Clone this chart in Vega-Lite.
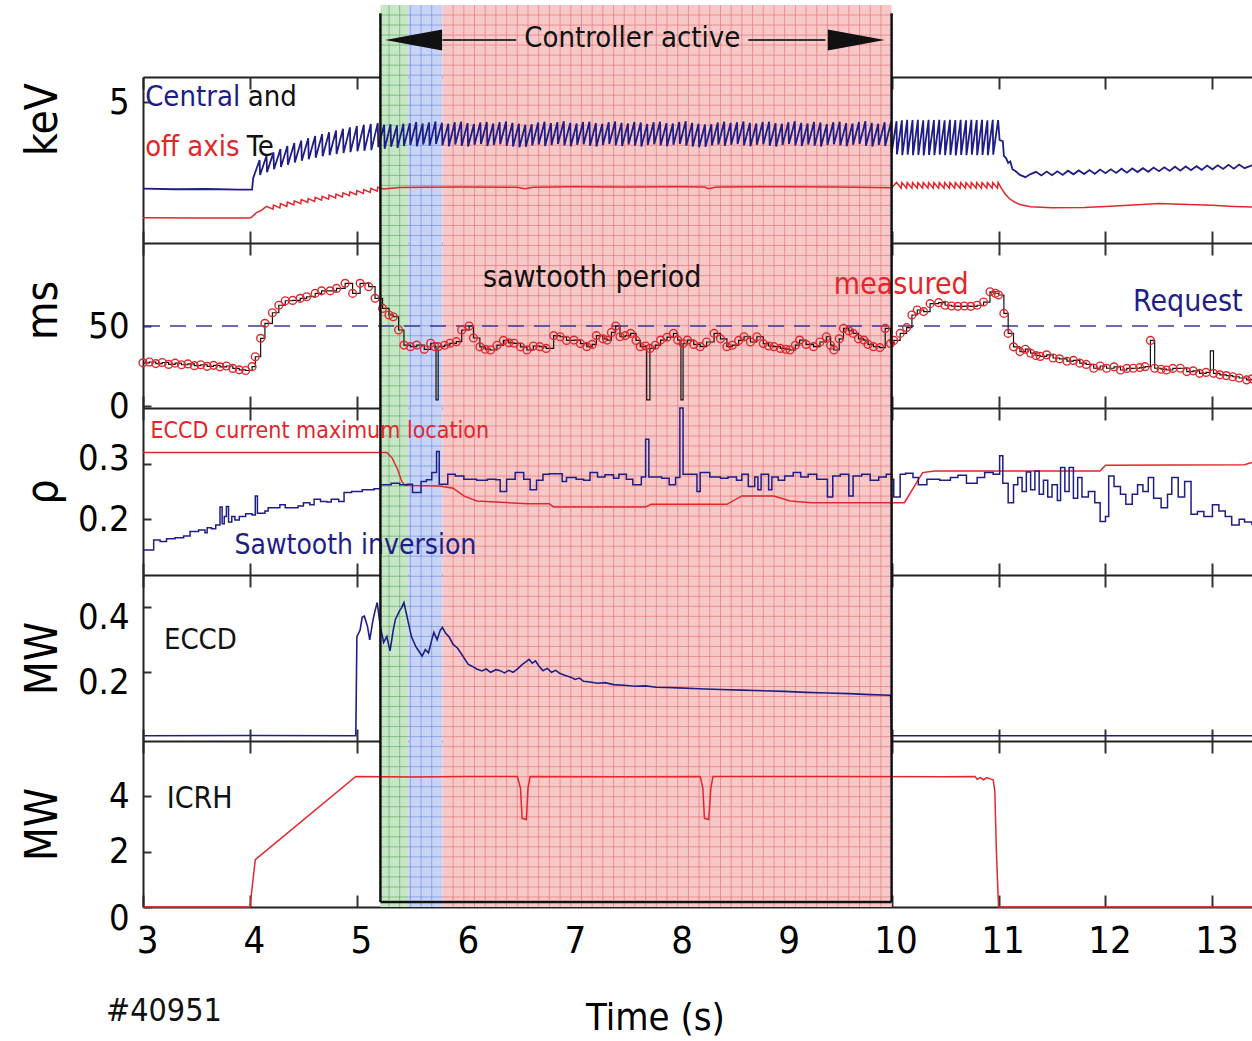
{
"$schema":"https://vega.github.io/schema/vega-lite/v6.json",
"autosize":{"type":"none"},
"padding":{"left":143,"top":5,"right":0,"bottom":134},
"width":1109,
"height":902,
"config":{
 "font":"DejaVu Sans Condensed, sans-serif",
 "view":{"stroke":null},
 "axis":{"labelFontSize":36,"labelColor":"#000","tickColor":"#333","tickWidth":2,"grid":false,"titleFontSize":44,"titleFontWeight":"normal","titleColor":"#000","labelFont":"DejaVu Sans Condensed, sans-serif","titleFont":"DejaVu Sans Condensed, sans-serif","domainColor":"#222","domainWidth":2,"zindex":1},
 "text":{"font":"DejaVu Sans Condensed, sans-serif"}
},
"datasets":{
 "reg":[{"t":5.22,"t2":5.48,"p":"g"},{"t":5.48,"t2":5.8,"p":"b"},{"t":5.8,"t2":10.0,"p":"r"}],
 "gv":[{"t":5.9},{"t":6.0},{"t":6.1},{"t":6.2},{"t":6.3},{"t":6.4},{"t":6.5},{"t":6.6},{"t":6.7},{"t":6.8},{"t":6.9},{"t":7.0},{"t":7.1},{"t":7.2},{"t":7.3},{"t":7.4},{"t":7.5},{"t":7.6},{"t":7.7},{"t":7.8},{"t":7.9},{"t":8.0},{"t":8.1},{"t":8.2},{"t":8.3},{"t":8.4},{"t":8.5},{"t":8.6},{"t":8.7},{"t":8.8},{"t":8.9},{"t":9.0},{"t":9.1},{"t":9.2},{"t":9.3},{"t":9.4},{"t":9.5},{"t":9.6},{"t":9.7},{"t":9.8},{"t":9.9}],
 "gh":[{"g":1},{"g":2},{"g":3},{"g":4},{"g":5},{"g":6},{"g":7},{"g":8},{"g":9},{"g":10},{"g":11},{"g":12},{"g":13},{"g":14},{"g":15},{"g":16},{"g":17},{"g":18},{"g":19},{"g":20},{"g":21},{"g":22},{"g":23},{"g":24},{"g":25},{"g":26},{"g":27},{"g":28},{"g":29},{"g":30},{"g":31},{"g":32},{"g":33},{"g":34},{"g":35},{"g":36},{"g":37},{"g":38},{"g":39},{"g":40},{"g":41},{"g":42},{"g":43},{"g":44},{"g":45},{"g":46},{"g":47},{"g":48},{"g":49},{"g":50},{"g":51},{"g":52},{"g":53},{"g":54},{"g":55},{"g":56},{"g":57},{"g":58},{"g":59},{"g":60},{"g":61},{"g":62},{"g":63},{"g":64},{"g":65},{"g":66},{"g":67},{"g":68},{"g":69},{"g":70},{"g":71},{"g":72},{"g":73},{"g":74},{"g":75},{"g":76},{"g":77},{"g":78},{"g":79},{"g":80},{"g":81},{"g":82},{"g":83},{"g":84},{"g":85},{"g":86},{"g":87},{"g":88},{"g":89}],
 "tec":[{"t":3.0,"v":1.93},{"t":3.3,"v":1.91},{"t":3.6,"v":1.92},{"t":3.9,"v":1.9},{"t":4.02,"v":1.9},
{"t":4.03,"v":2.3},{"t":4.09,"v":2.95},{"t":4.095,"v":2.42},{"t":4.155,"v":3.1},{"t":4.16,"v":2.52},{"t":4.22,"v":3.22},{"t":4.225,"v":2.62},{"t":4.285,"v":3.34},{"t":4.29,"v":2.7},{"t":4.35,"v":3.45},{"t":4.355,"v":2.78},{"t":4.415,"v":3.55},{"t":4.42,"v":2.86},{"t":4.48,"v":3.64},{"t":4.485,"v":2.92},{"t":4.545,"v":3.72},{"t":4.55,"v":2.98},{"t":4.61,"v":3.8},{"t":4.615,"v":3.03},{"t":4.675,"v":3.87},{"t":4.68,"v":3.08},{"t":4.74,"v":3.94},{"t":4.745,"v":3.12},{"t":4.805,"v":4.0},{"t":4.81,"v":3.16},{"t":4.87,"v":4.06},{"t":4.875,"v":3.2},{"t":4.935,"v":4.11},{"t":4.94,"v":3.23},{"t":5.0,"v":4.16},{"t":5.005,"v":3.26},{"t":5.065,"v":4.2},{"t":5.07,"v":3.28},{"t":5.13,"v":4.23},{"t":5.135,"v":3.3},{"t":5.195,"v":4.26},
{"t":5.2,"v":3.4},{"t":5.255,"v":4.2},{"t":5.26,"v":3.35},{"t":5.315,"v":4.22},{"t":5.32,"v":3.42},{"t":5.375,"v":4.18},{"t":5.38,"v":3.38},{"t":5.435,"v":4.24},{"t":5.44,"v":3.45},{"t":5.495,"v":4.26},{"t":5.5,"v":3.48},{"t":5.555,"v":4.3},{"t":5.56,"v":3.44},{"t":5.615,"v":4.25},{"t":5.62,"v":3.5},{"t":5.675,"v":4.28},{"t":5.68,"v":3.46},{"t":5.735,"v":4.32},{"t":5.74,"v":3.52},{"t":5.795,"v":4.27},{"t":5.8,"v":3.47},{"t":5.855,"v":4.24},{"t":5.86,"v":3.44},{"t":5.915,"v":4.29},{"t":5.92,"v":3.5},{"t":5.975,"v":4.31},{"t":5.98,"v":3.46},{"t":6.035,"v":4.26},{"t":6.04,"v":3.43},{"t":6.095,"v":4.23},{"t":6.1,"v":3.49},{"t":6.155,"v":4.28},{"t":6.16,"v":3.52},{"t":6.215,"v":4.3},{"t":6.22,"v":3.45},{"t":6.275,"v":4.25},{"t":6.28,"v":3.48},{"t":6.335,"v":4.29},{"t":6.34,"v":3.51},{"t":6.395,"v":4.32},{"t":6.4,"v":3.46},{"t":6.455,"v":4.27},{"t":6.46,"v":3.43},{"t":6.515,"v":4.24},{"t":6.52,"v":3.4},{"t":6.575,"v":4.2},{"t":6.58,"v":3.42},{"t":6.635,"v":4.22},{"t":6.64,"v":3.47},{"t":6.695,"v":4.28},{"t":6.7,"v":3.5},{"t":6.755,"v":4.31},{"t":6.76,"v":3.45},{"t":6.815,"v":4.26},{"t":6.82,"v":3.48},{"t":6.875,"v":4.29},{"t":6.88,"v":3.52},{"t":6.935,"v":4.33},{"t":6.94,"v":3.47},{"t":6.995,"v":4.27},{"t":7.0,"v":3.44},{"t":7.055,"v":4.25},{"t":7.06,"v":3.49},{"t":7.115,"v":4.3},{"t":7.12,"v":3.51},{"t":7.175,"v":4.31},{"t":7.18,"v":3.46},{"t":7.235,"v":4.26},{"t":7.24,"v":3.43},{"t":7.295,"v":4.24},{"t":7.3,"v":3.48},{"t":7.355,"v":4.29},{"t":7.36,"v":3.52},{"t":7.415,"v":4.32},{"t":7.42,"v":3.47},{"t":7.475,"v":4.27},{"t":7.48,"v":3.45},{"t":7.535,"v":4.25},{"t":7.54,"v":3.5},{"t":7.595,"v":4.3},{"t":7.6,"v":3.46},{"t":7.655,"v":4.28},{"t":7.66,"v":3.43},{"t":7.715,"v":4.23},{"t":7.72,"v":3.48},{"t":7.775,"v":4.29},{"t":7.78,"v":3.51},{"t":7.835,"v":4.31},{"t":7.84,"v":3.47},{"t":7.895,"v":4.26},{"t":7.9,"v":3.44},{"t":7.955,"v":4.25},{"t":7.96,"v":3.49},{"t":8.015,"v":4.3},{"t":8.02,"v":3.52},{"t":8.075,"v":4.33},{"t":8.08,"v":3.46},{"t":8.135,"v":4.27},{"t":8.14,"v":3.43},{"t":8.195,"v":4.24},{"t":8.2,"v":3.4},{"t":8.255,"v":4.21},{"t":8.26,"v":3.42},{"t":8.315,"v":4.22},{"t":8.32,"v":3.47},{"t":8.375,"v":4.28},{"t":8.38,"v":3.5},{"t":8.435,"v":4.31},{"t":8.44,"v":3.46},{"t":8.495,"v":4.27},{"t":8.5,"v":3.49},{"t":8.555,"v":4.29},{"t":8.56,"v":3.52},{"t":8.615,"v":4.32},{"t":8.62,"v":3.47},{"t":8.675,"v":4.27},{"t":8.68,"v":3.44},{"t":8.735,"v":4.25},{"t":8.74,"v":3.49},{"t":8.795,"v":4.3},{"t":8.8,"v":3.51},{"t":8.855,"v":4.31},{"t":8.86,"v":3.46},{"t":8.915,"v":4.26},{"t":8.92,"v":3.43},{"t":8.975,"v":4.24},{"t":8.98,"v":3.48},{"t":9.035,"v":4.29},{"t":9.04,"v":3.52},{"t":9.095,"v":4.33},{"t":9.1,"v":3.47},{"t":9.155,"v":4.27},{"t":9.16,"v":3.45},{"t":9.215,"v":4.25},{"t":9.22,"v":3.5},{"t":9.275,"v":4.3},{"t":9.28,"v":3.46},{"t":9.335,"v":4.28},{"t":9.34,"v":3.43},{"t":9.395,"v":4.23},{"t":9.4,"v":3.48},{"t":9.455,"v":4.29},{"t":9.46,"v":3.51},{"t":9.515,"v":4.31},{"t":9.52,"v":3.47},{"t":9.575,"v":4.26},{"t":9.58,"v":3.44},{"t":9.635,"v":4.25},{"t":9.64,"v":3.49},{"t":9.695,"v":4.3},{"t":9.7,"v":3.52},{"t":9.755,"v":4.33},{"t":9.76,"v":3.46},{"t":9.815,"v":4.27},{"t":9.82,"v":3.43},{"t":9.875,"v":4.24},{"t":9.88,"v":3.48},{"t":9.935,"v":4.29},{"t":9.94,"v":3.45},{"t":9.995,"v":4.3},
{"t":10.0,"v":3.2},{"t":10.046,"v":4.33},{"t":10.05,"v":3.15},{"t":10.096,"v":4.36},{"t":10.1,"v":3.12},{"t":10.146,"v":4.38},{"t":10.15,"v":3.14},{"t":10.196,"v":4.37},{"t":10.2,"v":3.12},{"t":10.246,"v":4.38},{"t":10.25,"v":3.13},{"t":10.296,"v":4.36},{"t":10.3,"v":3.11},{"t":10.346,"v":4.38},{"t":10.35,"v":3.13},{"t":10.396,"v":4.37},{"t":10.4,"v":3.12},{"t":10.446,"v":4.38},{"t":10.45,"v":3.14},{"t":10.496,"v":4.36},{"t":10.5,"v":3.12},{"t":10.546,"v":4.38},{"t":10.55,"v":3.13},{"t":10.596,"v":4.37},{"t":10.6,"v":3.11},{"t":10.646,"v":4.38},{"t":10.65,"v":3.13},{"t":10.696,"v":4.36},{"t":10.7,"v":3.12},{"t":10.746,"v":4.38},{"t":10.75,"v":3.14},{"t":10.796,"v":4.37},{"t":10.8,"v":3.12},{"t":10.846,"v":4.38},{"t":10.85,"v":3.13},{"t":10.896,"v":4.36},{"t":10.9,"v":3.12},{"t":10.946,"v":4.38},{"t":10.95,"v":3.14},{"t":10.996,"v":4.37},
{"t":11.01,"v":3.66},{"t":11.04,"v":3.62},{"t":11.05,"v":3.1},{"t":11.07,"v":3.02},{"t":11.09,"v":2.85},{"t":11.11,"v":2.9},{"t":11.13,"v":2.62},{"t":11.16,"v":2.55},{"t":11.2,"v":2.42},{"t":11.25,"v":2.34},{"t":11.3,"v":2.45},
{"t":11.35,"v":2.53},{"t":11.4,"v":2.4},{"t":11.45,"v":2.54},{"t":11.5,"v":2.41},{"t":11.55,"v":2.55},{"t":11.6,"v":2.42},{"t":11.65,"v":2.57},{"t":11.7,"v":2.44},{"t":11.75,"v":2.58},{"t":11.8,"v":2.45},{"t":11.85,"v":2.59},{"t":11.9,"v":2.46},{"t":11.95,"v":2.61},{"t":12.0,"v":2.48},{"t":12.05,"v":2.62},{"t":12.1,"v":2.49},{"t":12.15,"v":2.64},{"t":12.2,"v":2.5},{"t":12.25,"v":2.65},{"t":12.3,"v":2.52},{"t":12.35,"v":2.66},{"t":12.4,"v":2.53},{"t":12.45,"v":2.68},{"t":12.5,"v":2.55},{"t":12.55,"v":2.69},{"t":12.6,"v":2.56},{"t":12.65,"v":2.71},{"t":12.7,"v":2.57},{"t":12.75,"v":2.72},{"t":12.8,"v":2.59},{"t":12.85,"v":2.73},{"t":12.9,"v":2.6},{"t":12.95,"v":2.75},{"t":13.0,"v":2.62},{"t":13.05,"v":2.76},{"t":13.1,"v":2.63},{"t":13.15,"v":2.78},{"t":13.2,"v":2.64},{"t":13.25,"v":2.79},{"t":13.3,"v":2.66},{"t":13.37,"v":2.76}],
 "teo":[{"t":3.0,"v":0.9},{"t":3.5,"v":0.89},{"t":4.0,"v":0.89},{"t":4.02,"v":0.93},{"t":4.06,"v":1.08},{"t":4.1,"v":1.14},
{"t":4.155,"v":1.3},{"t":4.215,"v":1.2},{"t":4.22,"v":1.35},{"t":4.28,"v":1.25},{"t":4.285,"v":1.4},{"t":4.345,"v":1.3},{"t":4.35,"v":1.45},{"t":4.41,"v":1.35},{"t":4.415,"v":1.5},{"t":4.475,"v":1.4},{"t":4.48,"v":1.54},{"t":4.54,"v":1.44},{"t":4.545,"v":1.58},{"t":4.605,"v":1.48},{"t":4.61,"v":1.62},{"t":4.67,"v":1.52},{"t":4.675,"v":1.66},{"t":4.735,"v":1.56},{"t":4.74,"v":1.7},{"t":4.8,"v":1.6},{"t":4.805,"v":1.74},{"t":4.865,"v":1.64},{"t":4.87,"v":1.78},{"t":4.93,"v":1.68},{"t":4.935,"v":1.82},{"t":4.995,"v":1.72},{"t":5.0,"v":1.86},{"t":5.06,"v":1.76},{"t":5.065,"v":1.9},{"t":5.125,"v":1.8},{"t":5.13,"v":1.94},{"t":5.19,"v":1.84},{"t":5.195,"v":1.98},
{"t":5.25,"v":1.92},{"t":5.4,"v":1.97},{"t":5.6,"v":1.98},{"t":6.0,"v":1.99},{"t":6.5,"v":1.98},{"t":6.57,"v":1.93},{"t":6.65,"v":1.98},{"t":7.0,"v":2.0},{"t":7.5,"v":1.99},{"t":8.0,"v":2.0},{"t":8.25,"v":1.99},{"t":8.29,"v":1.93},{"t":8.36,"v":1.99},{"t":9.0,"v":2.0},{"t":9.5,"v":1.99},{"t":10.0,"v":1.96},
{"t":10.046,"v":2.15},{"t":10.09,"v":1.95},{"t":10.096,"v":2.15},{"t":10.14,"v":1.95},{"t":10.146,"v":2.15},{"t":10.19,"v":1.95},{"t":10.196,"v":2.15},{"t":10.24,"v":1.95},{"t":10.246,"v":2.15},{"t":10.29,"v":1.95},{"t":10.296,"v":2.15},{"t":10.34,"v":1.95},{"t":10.346,"v":2.15},{"t":10.39,"v":1.95},{"t":10.396,"v":2.15},{"t":10.44,"v":1.95},{"t":10.446,"v":2.15},{"t":10.49,"v":1.95},{"t":10.496,"v":2.15},{"t":10.54,"v":1.95},{"t":10.546,"v":2.15},{"t":10.59,"v":1.95},{"t":10.596,"v":2.15},{"t":10.64,"v":1.95},{"t":10.646,"v":2.15},{"t":10.69,"v":1.95},{"t":10.696,"v":2.15},{"t":10.74,"v":1.95},{"t":10.746,"v":2.15},{"t":10.79,"v":1.95},{"t":10.796,"v":2.15},{"t":10.84,"v":1.95},{"t":10.846,"v":2.15},{"t":10.89,"v":1.95},{"t":10.896,"v":2.15},{"t":10.94,"v":1.95},{"t":10.946,"v":2.15},{"t":10.99,"v":1.95},{"t":10.996,"v":2.15},
{"t":11.03,"v":1.92},{"t":11.06,"v":1.75},{"t":11.1,"v":1.58},{"t":11.15,"v":1.45},{"t":11.2,"v":1.37},{"t":11.3,"v":1.29},{"t":11.5,"v":1.25},{"t":11.8,"v":1.26},{"t":12.0,"v":1.3},{"t":12.3,"v":1.36},{"t":12.5,"v":1.4},{"t":12.7,"v":1.38},{"t":13.0,"v":1.34},{"t":13.2,"v":1.3},{"t":13.37,"v":1.28}],
 "tau":[{"t":3.0,"v":27.0,"m":1},{"t":3.06,"v":27.5,"m":1},{"t":3.12,"v":26.5,"m":1},{"t":3.18,"v":27.2,"m":1},{"t":3.24,"v":26.0,"m":1},{"t":3.3,"v":26.8,"m":1},{"t":3.36,"v":25.8,"m":1},{"t":3.42,"v":26.3,"m":1},{"t":3.48,"v":25.2,"m":1},{"t":3.54,"v":25.8,"m":1},{"t":3.6,"v":24.8,"m":1},{"t":3.66,"v":25.4,"m":1},{"t":3.72,"v":24.5,"m":1},{"t":3.78,"v":25.0,"m":1},{"t":3.84,"v":23.5,"m":1},{"t":3.9,"v":22.6,"m":1},{"t":3.96,"v":22.2,"m":1},{"t":4.02,"v":24.6,"m":1},{"t":4.05,"v":30.8,"m":1},{"t":4.1,"v":42.3,"m":1},{"t":4.14,"v":51.7,"m":1},{"t":4.21,"v":58.3,"m":1},{"t":4.27,"v":63.0,"m":1},{"t":4.33,"v":65.8,"m":1},{"t":4.4,"v":66.0,"m":1},{"t":4.47,"v":67.3,"m":1},{"t":4.53,"v":68.3,"m":1},{"t":4.61,"v":70.4,"m":1},{"t":4.67,"v":72.0,"m":1},{"t":4.75,"v":72.0,"m":1},{"t":4.81,"v":73.5,"m":1},{"t":4.89,"v":76.7,"m":1},{"t":4.96,"v":70.4,"m":1},{"t":5.03,"v":76.7,"m":1},{"t":5.11,"v":74.6,"m":1},{"t":5.17,"v":67.3,"m":1},{"t":5.24,"v":61.0,"m":1},{"t":5.3,"v":56.9,"m":1},{"t":5.34,"v":55.8,"m":1},{"t":5.39,"v":47.5,"m":1},{"t":5.44,"v":38.1,"m":1},{"t":5.5,"v":37.1,"m":1},{"t":5.56,"v":38.1,"m":1},{"t":5.63,"v":35.4,"m":1},{"t":5.69,"v":39.2,"m":1},{"t":5.73,"v":37.1,"m":1},{"t":5.74,"v":3.8,"m":0},{"t":5.76,"v":37.1,"m":1},{"t":5.82,"v":38.0,"m":1},{"t":5.87,"v":39.2,"m":1},{"t":5.93,"v":40.2,"m":1},{"t":5.98,"v":47.5,"m":1},{"t":6.05,"v":50.0,"m":1},{"t":6.09,"v":42.5,"m":1},{"t":6.15,"v":37.0,"m":1},{"t":6.2,"v":35.5,"m":1},{"t":6.25,"v":35.0,"m":1},{"t":6.31,"v":38.0,"m":1},{"t":6.37,"v":41.0,"m":1},{"t":6.42,"v":39.5,"m":1},{"t":6.47,"v":39.2,"m":1},{"t":6.53,"v":37.0,"m":1},{"t":6.59,"v":35.0,"m":1},{"t":6.65,"v":37.5,"m":1},{"t":6.71,"v":37.1,"m":1},{"t":6.77,"v":36.0,"m":1},{"t":6.84,"v":44.0,"m":1},{"t":6.9,"v":43.3,"m":1},{"t":6.96,"v":41.0,"m":1},{"t":7.03,"v":41.2,"m":1},{"t":7.09,"v":39.0,"m":1},{"t":7.15,"v":37.1,"m":1},{"t":7.2,"v":38.5,"m":1},{"t":7.24,"v":44.0,"m":1},{"t":7.3,"v":42.0,"m":1},{"t":7.34,"v":41.2,"m":1},{"t":7.38,"v":46.0,"m":1},{"t":7.42,"v":50.0,"m":1},{"t":7.46,"v":43.3,"m":1},{"t":7.51,"v":44.0,"m":1},{"t":7.56,"v":45.4,"m":1},{"t":7.61,"v":41.0,"m":1},{"t":7.65,"v":37.1,"m":1},{"t":7.7,"v":37.5,"m":1},{"t":7.71,"v":3.8,"m":0},{"t":7.74,"v":36.0,"m":1},{"t":7.79,"v":38.0,"m":1},{"t":7.84,"v":41.2,"m":1},{"t":7.9,"v":43.0,"m":1},{"t":7.96,"v":45.4,"m":1},{"t":8.0,"v":41.2,"m":1},{"t":8.03,"v":3.8,"m":0},{"t":8.05,"v":39.0,"m":1},{"t":8.09,"v":41.2,"m":1},{"t":8.15,"v":38.5,"m":1},{"t":8.21,"v":37.1,"m":1},{"t":8.27,"v":40.0,"m":1},{"t":8.34,"v":45.4,"m":1},{"t":8.4,"v":42.0,"m":1},{"t":8.46,"v":37.1,"m":1},{"t":8.51,"v":38.0,"m":1},{"t":8.57,"v":41.0,"m":1},{"t":8.62,"v":43.3,"m":1},{"t":8.68,"v":40.0,"m":1},{"t":8.74,"v":43.3,"m":1},{"t":8.8,"v":39.0,"m":1},{"t":8.85,"v":37.5,"m":1},{"t":8.9,"v":37.1,"m":1},{"t":8.96,"v":36.0,"m":1},{"t":9.01,"v":35.5,"m":1},{"t":9.05,"v":35.0,"m":1},{"t":9.1,"v":38.0,"m":1},{"t":9.14,"v":41.2,"m":1},{"t":9.2,"v":38.5,"m":1},{"t":9.27,"v":37.1,"m":1},{"t":9.33,"v":40.0,"m":1},{"t":9.39,"v":43.3,"m":1},{"t":9.43,"v":38.0,"m":1},{"t":9.46,"v":35.0,"m":1},{"t":9.51,"v":42.0,"m":1},{"t":9.55,"v":48.5,"m":1},{"t":9.6,"v":47.0,"m":1},{"t":9.64,"v":45.4,"m":1},{"t":9.69,"v":42.0,"m":1},{"t":9.74,"v":41.2,"m":1},{"t":9.78,"v":38.5,"m":1},{"t":9.83,"v":37.1,"m":1},{"t":9.89,"v":36.5,"m":1},{"t":9.94,"v":48.5,"m":1},{"t":9.99,"v":39.0,"m":1},{"t":10.02,"v":41.0,"m":1},{"t":10.08,"v":45.4,"m":1},{"t":10.14,"v":49.0,"m":1},{"t":10.19,"v":56.9,"m":1},{"t":10.24,"v":60.0,"m":1},{"t":10.3,"v":59.0,"m":1},{"t":10.36,"v":64.0,"m":1},{"t":10.44,"v":64.6,"m":1},{"t":10.5,"v":63.0,"m":1},{"t":10.56,"v":62.5,"m":1},{"t":10.62,"v":62.3,"m":1},{"t":10.68,"v":62.5,"m":1},{"t":10.74,"v":62.3,"m":1},{"t":10.8,"v":63.0,"m":1},{"t":10.86,"v":65.0,"m":1},{"t":10.92,"v":71.4,"m":1},{"t":10.97,"v":70.5,"m":1},{"t":11.0,"v":69.4,"m":1},{"t":11.05,"v":57.9,"m":1},{"t":11.09,"v":45.4,"m":1},{"t":11.14,"v":37.0,"m":1},{"t":11.2,"v":34.0,"m":1},{"t":11.25,"v":35.5,"m":1},{"t":11.3,"v":33.0,"m":1},{"t":11.35,"v":31.5,"m":1},{"t":11.39,"v":31.0,"m":1},{"t":11.45,"v":32.0,"m":1},{"t":11.51,"v":30.0,"m":1},{"t":11.57,"v":29.5,"m":1},{"t":11.64,"v":28.0,"m":1},{"t":11.7,"v":28.5,"m":1},{"t":11.76,"v":26.8,"m":1},{"t":11.82,"v":26.0,"m":1},{"t":11.89,"v":23.6,"m":1},{"t":11.95,"v":25.0,"m":1},{"t":12.01,"v":23.6,"m":1},{"t":12.08,"v":24.5,"m":1},{"t":12.14,"v":22.5,"m":1},{"t":12.2,"v":23.5,"m":1},{"t":12.26,"v":23.6,"m":1},{"t":12.32,"v":24.0,"m":1},{"t":12.37,"v":24.6,"m":1},{"t":12.42,"v":41.0,"m":1},{"t":12.46,"v":23.6,"m":1},{"t":12.52,"v":23.0,"m":1},{"t":12.57,"v":22.5,"m":1},{"t":12.63,"v":23.5,"m":1},{"t":12.7,"v":23.6,"m":1},{"t":12.76,"v":21.5,"m":1},{"t":12.82,"v":22.0,"m":1},{"t":12.88,"v":20.4,"m":1},{"t":12.94,"v":21.0,"m":1},{"t":12.98,"v":34.4,"m":0},{"t":13.01,"v":20.4,"m":1},{"t":13.07,"v":19.5,"m":1},{"t":13.13,"v":19.0,"m":1},{"t":13.19,"v":18.3,"m":1},{"t":13.25,"v":17.5,"m":1},{"t":13.32,"v":16.3,"m":1},{"t":13.37,"v":17.0,"m":1}],
 "rhoe":[{"t":3.0,"v":0.32},{"t":5.28,"v":0.32},{"t":5.33,"v":0.31},{"t":5.38,"v":0.29},{"t":5.42,"v":0.268},{"t":5.45,"v":0.261},{"t":5.77,"v":0.26},{"t":5.9,"v":0.256},{"t":6.0,"v":0.242},{"t":6.12,"v":0.233},{"t":6.6,"v":0.228},{"t":6.8,"v":0.228},{"t":6.84,"v":0.222},{"t":7.7,"v":0.222},{"t":7.75,"v":0.227},{"t":8.46,"v":0.227},{"t":8.6,"v":0.242},{"t":8.9,"v":0.242},{"t":9.05,"v":0.233},{"t":9.25,"v":0.23},{"t":10.12,"v":0.23},{"t":10.29,"v":0.284},{"t":10.4,"v":0.287},{"t":11.95,"v":0.287},{"t":12.0,"v":0.297},{"t":13.3,"v":0.298},{"t":13.37,"v":0.302}],
 "rhos":[{"t":3.0,"v":0.145},{"t":3.1,"v":0.163},{"t":3.16,"v":0.16},{"t":3.22,"v":0.165},{"t":3.3,"v":0.167},{"t":3.38,"v":0.17},{"t":3.44,"v":0.178},{"t":3.52,"v":0.181},{"t":3.58,"v":0.176},{"t":3.6,"v":0.185},{"t":3.64,"v":0.183},{"t":3.68,"v":0.19},{"t":3.72,"v":0.222},{"t":3.74,"v":0.192},{"t":3.76,"v":0.205},{"t":3.78,"v":0.223},{"t":3.8,"v":0.195},{"t":3.83,"v":0.205},{"t":3.86,"v":0.199},{"t":3.9,"v":0.205},{"t":3.96,"v":0.21},{"t":4.02,"v":0.208},{"t":4.05,"v":0.242},{"t":4.07,"v":0.211},{"t":4.14,"v":0.215},{"t":4.17,"v":0.221},{"t":4.28,"v":0.226},{"t":4.33,"v":0.221},{"t":4.45,"v":0.224},{"t":4.5,"v":0.23},{"t":4.56,"v":0.226},{"t":4.6,"v":0.236},{"t":4.66,"v":0.232},{"t":4.72,"v":0.231},{"t":4.76,"v":0.236},{"t":4.83,"v":0.232},{"t":4.88,"v":0.248},{"t":4.95,"v":0.25},{"t":5.05,"v":0.253},{"t":5.16,"v":0.255},{"t":5.22,"v":0.262},{"t":5.32,"v":0.265},{"t":5.4,"v":0.262},{"t":5.47,"v":0.263},{"t":5.52,"v":0.248},{"t":5.6,"v":0.268},{"t":5.65,"v":0.271},{"t":5.7,"v":0.284},{"t":5.745,"v":0.322},{"t":5.77,"v":0.263},{"t":5.85,"v":0.281},{"t":5.92,"v":0.278},{"t":6.0,"v":0.272},{"t":6.12,"v":0.27},{"t":6.22,"v":0.272},{"t":6.3,"v":0.271},{"t":6.34,"v":0.25},{"t":6.4,"v":0.272},{"t":6.48,"v":0.284},{"t":6.56,"v":0.272},{"t":6.62,"v":0.253},{"t":6.68,"v":0.27},{"t":6.74,"v":0.281},{"t":6.8,"v":0.282},{"t":6.92,"v":0.268},{"t":6.96,"v":0.275},{"t":7.05,"v":0.272},{"t":7.12,"v":0.27},{"t":7.18,"v":0.284},{"t":7.25,"v":0.276},{"t":7.32,"v":0.28},{"t":7.4,"v":0.274},{"t":7.45,"v":0.281},{"t":7.52,"v":0.272},{"t":7.58,"v":0.262},{"t":7.66,"v":0.276},{"t":7.7,"v":0.344},{"t":7.73,"v":0.276},{"t":7.85,"v":0.274},{"t":7.92,"v":0.262},{"t":7.98,"v":0.275},{"t":8.02,"v":0.4},{"t":8.05,"v":0.281},{"t":8.13,"v":0.281},{"t":8.18,"v":0.25},{"t":8.21,"v":0.284},{"t":8.3,"v":0.276},{"t":8.4,"v":0.274},{"t":8.47,"v":0.276},{"t":8.55,"v":0.27},{"t":8.6,"v":0.281},{"t":8.66,"v":0.259},{"t":8.72,"v":0.276},{"t":8.75,"v":0.253},{"t":8.78,"v":0.281},{"t":8.85,"v":0.253},{"t":8.88,"v":0.276},{"t":8.94,"v":0.27},{"t":9.0,"v":0.278},{"t":9.08,"v":0.284},{"t":9.15,"v":0.276},{"t":9.22,"v":0.281},{"t":9.3,"v":0.272},{"t":9.4,"v":0.24},{"t":9.45,"v":0.278},{"t":9.52,"v":0.281},{"t":9.6,"v":0.242},{"t":9.64,"v":0.278},{"t":9.72,"v":0.281},{"t":9.8,"v":0.27},{"t":9.88,"v":0.276},{"t":9.95,"v":0.281},{"t":10.0,"v":0.272},{"t":10.02,"v":0.24},{"t":10.08,"v":0.281},{"t":10.13,"v":0.283},{"t":10.2,"v":0.275},{"t":10.25,"v":0.262},{"t":10.33,"v":0.272},{"t":10.45,"v":0.27},{"t":10.55,"v":0.275},{"t":10.62,"v":0.279},{"t":10.7,"v":0.265},{"t":10.8,"v":0.275},{"t":10.87,"v":0.284},{"t":10.95,"v":0.281},{"t":11.01,"v":0.314},{"t":11.04,"v":0.265},{"t":11.09,"v":0.23},{"t":11.14,"v":0.262},{"t":11.18,"v":0.275},{"t":11.22,"v":0.25},{"t":11.26,"v":0.285},{"t":11.3,"v":0.253},{"t":11.34,"v":0.287},{"t":11.38,"v":0.245},{"t":11.42,"v":0.27},{"t":11.46,"v":0.24},{"t":11.5,"v":0.262},{"t":11.55,"v":0.234},{"t":11.58,"v":0.293},{"t":11.62,"v":0.25},{"t":11.66,"v":0.293},{"t":11.7,"v":0.238},{"t":11.74,"v":0.275},{"t":11.78,"v":0.24},{"t":11.84,"v":0.25},{"t":11.9,"v":0.23},{"t":11.95,"v":0.196},{"t":12.0,"v":0.205},{"t":12.03,"v":0.278},{"t":12.08,"v":0.259},{"t":12.14,"v":0.245},{"t":12.19,"v":0.227},{"t":12.25,"v":0.245},{"t":12.3,"v":0.262},{"t":12.35,"v":0.25},{"t":12.4,"v":0.275},{"t":12.45,"v":0.238},{"t":12.52,"v":0.221},{"t":12.58,"v":0.245},{"t":12.62,"v":0.275},{"t":12.68,"v":0.24},{"t":12.74,"v":0.268},{"t":12.8,"v":0.209},{"t":12.86,"v":0.214},{"t":12.92,"v":0.205},{"t":13.0,"v":0.226},{"t":13.06,"v":0.215},{"t":13.12,"v":0.205},{"t":13.18,"v":0.19},{"t":13.25,"v":0.2},{"t":13.3,"v":0.195},{"t":13.37,"v":0.19}],
 "eccd":[{"t":3.0,"v":0.004},{"t":4.0,"v":0.005},{"t":4.99,"v":0.004},{"t":5.0,"v":0.31},{"t":5.03,"v":0.33},{"t":5.05,"v":0.37},{"t":5.07,"v":0.373},{"t":5.1,"v":0.34},{"t":5.12,"v":0.3},{"t":5.15,"v":0.36},{"t":5.17,"v":0.39},{"t":5.19,"v":0.415},{"t":5.22,"v":0.34},{"t":5.25,"v":0.292},{"t":5.28,"v":0.31},{"t":5.31,"v":0.266},{"t":5.34,"v":0.33},{"t":5.36,"v":0.363},{"t":5.4,"v":0.39},{"t":5.42,"v":0.4},{"t":5.44,"v":0.415},{"t":5.47,"v":0.37},{"t":5.51,"v":0.31},{"t":5.55,"v":0.28},{"t":5.58,"v":0.265},{"t":5.61,"v":0.25},{"t":5.64,"v":0.27},{"t":5.67,"v":0.26},{"t":5.7,"v":0.3},{"t":5.72,"v":0.323},{"t":5.75,"v":0.3},{"t":5.78,"v":0.33},{"t":5.8,"v":0.338},{"t":5.83,"v":0.32},{"t":5.86,"v":0.31},{"t":5.9,"v":0.286},{"t":5.94,"v":0.275},{"t":5.97,"v":0.26},{"t":6.0,"v":0.245},{"t":6.04,"v":0.225},{"t":6.08,"v":0.218},{"t":6.12,"v":0.21},{"t":6.17,"v":0.204},{"t":6.21,"v":0.21},{"t":6.25,"v":0.2},{"t":6.3,"v":0.208},{"t":6.34,"v":0.205},{"t":6.38,"v":0.198},{"t":6.42,"v":0.206},{"t":6.46,"v":0.2},{"t":6.5,"v":0.21},{"t":6.55,"v":0.225},{"t":6.58,"v":0.232},{"t":6.61,"v":0.24},{"t":6.64,"v":0.228},{"t":6.67,"v":0.235},{"t":6.7,"v":0.22},{"t":6.74,"v":0.205},{"t":6.78,"v":0.212},{"t":6.82,"v":0.2},{"t":6.86,"v":0.206},{"t":6.9,"v":0.196},{"t":6.95,"v":0.19},{"t":7.0,"v":0.185},{"t":7.04,"v":0.178},{"t":7.08,"v":0.182},{"t":7.12,"v":0.172},{"t":7.18,"v":0.17},{"t":7.25,"v":0.166},{"t":7.32,"v":0.168},{"t":7.4,"v":0.162},{"t":7.5,"v":0.16},{"t":7.6,"v":0.157},{"t":7.7,"v":0.158},{"t":7.8,"v":0.154},{"t":7.9,"v":0.153},{"t":8.0,"v":0.152},{"t":8.2,"v":0.149},{"t":8.4,"v":0.147},{"t":8.6,"v":0.145},{"t":8.8,"v":0.143},{"t":9.0,"v":0.141},{"t":9.2,"v":0.138},{"t":9.4,"v":0.136},{"t":9.6,"v":0.134},{"t":9.8,"v":0.131},{"t":9.99,"v":0.129},{"t":10.0,"v":0.004},{"t":13.37,"v":0.004}],
 "icrh":[{"t":3.0,"v":0},{"t":4.0,"v":0},{"t":4.05,"v":1.71},{"t":4.99,"v":4.72},{"t":5.5,"v":4.7},{"t":6.0,"v":4.72},{"t":6.5,"v":4.72},{"t":6.53,"v":4.3},{"t":6.545,"v":3.2},{"t":6.585,"v":3.16},{"t":6.6,"v":4.3},{"t":6.62,"v":4.72},{"t":7.5,"v":4.71},{"t":8.21,"v":4.72},{"t":8.235,"v":4.3},{"t":8.25,"v":3.2},{"t":8.29,"v":3.16},{"t":8.31,"v":4.3},{"t":8.33,"v":4.72},{"t":9.5,"v":4.72},{"t":10.5,"v":4.71},{"t":10.78,"v":4.72},{"t":10.8,"v":4.62},{"t":10.83,"v":4.68},{"t":10.86,"v":4.6},{"t":10.89,"v":4.68},{"t":10.92,"v":4.63},{"t":10.95,"v":4.6},{"t":10.965,"v":4.2},{"t":10.98,"v":2.0},{"t":11.0,"v":0},{"t":13.37,"v":0}]
},
"layer":[
 {"data":{"name":"reg"},"mark":{"type":"rect"},
  "encoding":{"x":{"field":"t","type":"quantitative","scale":{"domain":[3,13.37],"nice":false,"zero":false},"axis":{"orient":"bottom","offset":-830,"values":[3,4,5,6,7,8,9,10,11,12,13],"labels":false,"tickSize":12,"domain":true,"title":null}},"x2":{"field":"t2"},"fill":{"field":"p","type":"nominal","scale":{"domain":["g","b","r"],"range":["#c6e6c6","#c8d4f6","#f6c8c8"]},"legend":null}}},
 {"data":{"name":"gv"},"mark":{"type":"rule","color":"#e46a6a","strokeWidth":1,"opacity":0.6},
  "encoding":{"x":{"field":"t","type":"quantitative","scale":{"domain":[3,13.37],"nice":false,"zero":false},"axis":null}}},
 {"data":{"name":"gh"},"mark":{"type":"rule","color":"#e46a6a","strokeWidth":1,"opacity":0.6},
  "encoding":{"x":{"datum":5.8,"type":"quantitative","scale":{"domain":[3,13.37],"nice":false,"zero":false},"axis":null},"x2":{"datum":10.0},"y":{"field":"g","type":"quantitative","scale":{"domain":[0,90],"range":[902,0],"nice":false,"zero":false},"axis":null}}},
 {"data":{"values":[{"t":5.3},{"t":5.4}]},"mark":{"type":"rule","color":"#4f9f4f","strokeWidth":1,"opacity":0.55},
  "encoding":{"x":{"field":"t","type":"quantitative","scale":{"domain":[3,13.37],"nice":false,"zero":false},"axis":null}}},
 {"data":{"name":"gh"},"mark":{"type":"rule","color":"#4f9f4f","strokeWidth":1,"opacity":0.55},
  "encoding":{"x":{"datum":5.22,"type":"quantitative","scale":{"domain":[3,13.37],"nice":false,"zero":false},"axis":null},"x2":{"datum":5.48},"y":{"field":"g","type":"quantitative","scale":{"domain":[0,90],"range":[902,0],"nice":false,"zero":false},"axis":null}}},
 {"data":{"values":[{"t":5.5},{"t":5.6},{"t":5.7}]},"mark":{"type":"rule","color":"#5f7fdf","strokeWidth":1,"opacity":0.55},
  "encoding":{"x":{"field":"t","type":"quantitative","scale":{"domain":[3,13.37],"nice":false,"zero":false},"axis":null}}},
 {"data":{"name":"gh"},"mark":{"type":"rule","color":"#5f7fdf","strokeWidth":1,"opacity":0.55},
  "encoding":{"x":{"datum":5.48,"type":"quantitative","scale":{"domain":[3,13.37],"nice":false,"zero":false},"axis":null},"x2":{"datum":5.8},"y":{"field":"g","type":"quantitative","scale":{"domain":[0,90],"range":[902,0],"nice":false,"zero":false},"axis":null}}},
 {"data":{"name":"teo"},"mark":{"type":"line","color":"#e3262b","strokeWidth":1.5},
  "encoding":{"x":{"field":"t","type":"quantitative","scale":{"domain":[3,13.37],"nice":false,"zero":false},"axis":{"orient":"bottom","offset":-664,"values":[3,4,5,6,7,8,9,10,11,12,13],"labels":false,"tickSize":-12,"domain":true,"title":null}},
   "y":{"field":"v","type":"quantitative","scale":{"domain":[0,5.9],"range":[238,72],"nice":false,"zero":false},"axis":{"orient":"left","values":[5],"tickSize":-8,"labelPadding":22,"domain":true,"title":"keV","titleX":-87,"titleY":114,"titleAngle":270,"titleBaseline":"alphabetic","titleAlign":"center"}}}},
 {"data":{"name":"tec"},"mark":{"type":"line","color":"#1e1e86","strokeWidth":1.8},
  "encoding":{"x":{"field":"t","type":"quantitative","scale":{"domain":[3,13.37],"nice":false,"zero":false},"axis":{"orient":"bottom","offset":-664,"values":[3,4,5,6,7,8,9,10,11,12,13],"labels":false,"tickSize":12,"domain":false,"title":null}},
   "y":{"field":"v","type":"quantitative","scale":{"domain":[0,5.9],"range":[238,72],"nice":false,"zero":false},"axis":null}}},
 {"data":{"values":[{"t":3.02,"v":5.19,"label":"Central","s":"c"},{"t":3.98,"v":5.19,"label":"and","s":"k"},{"t":3.02,"v":3.41,"label":"off axis","s":"o"},{"t":3.97,"v":3.41,"label":"Te","s":"k"}]},"mark":{"type":"text","fontSize":29,"align":"left","baseline":"middle"},
  "encoding":{"x":{"field":"t","type":"quantitative","scale":{"domain":[3,13.37],"nice":false,"zero":false},"axis":null},"y":{"field":"v","type":"quantitative","scale":{"domain":[0,5.9],"range":[238,72],"nice":false,"zero":false},"axis":null},"text":{"field":"label"},"color":{"field":"s","type":"nominal","scale":{"domain":["c","o","k"],"range":["#1e1e86","#e3262b","#111"]},"legend":null}}},
 {"data":{"values":[{"v":50}]},"mark":{"type":"rule","color":"#3a3a9a","strokeWidth":1.5,"strokeDash":[16,10]},
  "encoding":{"y":{"field":"v","type":"quantitative","scale":{"domain":[-1.25,101.9],"range":[403,238],"nice":false,"zero":false},"axis":{"orient":"left","values":[0,50],"tickSize":-8,"labelPadding":22,"domain":true,"title":"ms","titleX":-87,"titleY":305,"titleAngle":270,"titleBaseline":"alphabetic","titleAlign":"center"}}}},
 {"data":{"name":"tau"},"mark":{"type":"line","color":"#111","strokeWidth":1.2,"interpolate":"step-after"},
  "encoding":{"x":{"field":"t","type":"quantitative","scale":{"domain":[3,13.37],"nice":false,"zero":false},"axis":{"orient":"bottom","offset":-499,"values":[3,4,5,6,7,8,9,10,11,12,13],"labels":false,"tickSize":-12,"domain":true,"title":null}},
   "y":{"field":"v","type":"quantitative","scale":{"domain":[-1.25,101.9],"range":[403,238],"nice":false,"zero":false},"axis":null}}},
 {"data":{"name":"tau"},"transform":[{"filter":"datum.m == 1"}],"mark":{"type":"point","filled":false,"color":"#e3262b","size":60,"strokeWidth":1.4,"opacity":1},
  "encoding":{"x":{"field":"t","type":"quantitative","scale":{"domain":[3,13.37],"nice":false,"zero":false},"axis":{"orient":"bottom","offset":-499,"values":[3,4,5,6,7,8,9,10,11,12,13],"labels":false,"tickSize":12,"domain":false,"title":null}},
   "y":{"field":"v","type":"quantitative","scale":{"domain":[-1.25,101.9],"range":[403,238],"nice":false,"zero":false},"axis":null}}},
 {"data":{"values":[{"t":7.2,"v":80,"label":"sawtooth period","s":"k"},{"t":10.09,"v":75.6,"label":"measured","s":"o"},{"t":12.77,"v":65,"label":"Request","s":"c"}]},"mark":{"type":"text","fontSize":30,"align":"center","baseline":"middle"},
  "encoding":{"x":{"field":"t","type":"quantitative","scale":{"domain":[3,13.37],"nice":false,"zero":false},"axis":null},"y":{"field":"v","type":"quantitative","scale":{"domain":[-1.25,101.9],"range":[403,238],"nice":false,"zero":false},"axis":null},"text":{"field":"label"},"color":{"field":"s","type":"nominal","scale":{"domain":["c","o","k"],"range":["#1e1e86","#e3262b","#111"]},"legend":null}}},
 {"data":{"name":"rhoe"},"mark":{"type":"line","color":"#e3262b","strokeWidth":1.5},
  "encoding":{"x":{"field":"t","type":"quantitative","scale":{"domain":[3,13.37],"nice":false,"zero":false},"axis":{"orient":"bottom","offset":-332,"values":[3,4,5,6,7,8,9,10,11,12,13],"labels":false,"tickSize":-12,"domain":true,"title":null}},
   "y":{"field":"v","type":"quantitative","scale":{"domain":[0.1,0.4],"range":[570,403],"nice":false,"zero":false},"axis":{"orient":"left","values":[0.2,0.3],"tickSize":-8,"labelPadding":22,"labelOffset":{"condition":{"test":"datum.value > 0.25","value":-5},"value":0},"domain":true,"title":"ρ","titleX":-87,"titleAngle":270,"titleBaseline":"alphabetic","titleAlign":"center"}}}},
 {"data":{"name":"rhos"},"mark":{"type":"line","color":"#1e1e86","strokeWidth":1.5,"interpolate":"step-after"},
  "encoding":{"x":{"field":"t","type":"quantitative","scale":{"domain":[3,13.37],"nice":false,"zero":false},"axis":{"orient":"bottom","offset":-332,"values":[3,4,5,6,7,8,9,10,11,12,13],"labels":false,"tickSize":12,"domain":false,"title":null}},
   "y":{"field":"v","type":"quantitative","scale":{"domain":[0.1,0.4],"range":[570,403],"nice":false,"zero":false},"axis":null}}},
 {"data":{"values":[{"t":3.07,"v":0.3586,"label":"ECCD current maximum location","s":"o"}]},"mark":{"type":"text","fontSize":23,"align":"left","baseline":"middle"},
  "encoding":{"x":{"field":"t","type":"quantitative","scale":{"domain":[3,13.37],"nice":false,"zero":false},"axis":null},"y":{"field":"v","type":"quantitative","scale":{"domain":[0.1,0.4],"range":[570,403],"nice":false,"zero":false},"axis":null},"text":{"field":"label"},"color":{"field":"s","type":"nominal","scale":{"domain":["c","o","k"],"range":["#1e1e86","#e3262b","#111"]},"legend":null}}},
 {"data":{"values":[{"t":4.986,"v":0.152,"label":"Sawtooth inversion","s":"c"}]},"mark":{"type":"text","fontSize":28,"align":"center","baseline":"middle"},
  "encoding":{"x":{"field":"t","type":"quantitative","scale":{"domain":[3,13.37],"nice":false,"zero":false},"axis":null},"y":{"field":"v","type":"quantitative","scale":{"domain":[0.1,0.4],"range":[570,403],"nice":false,"zero":false},"axis":null},"text":{"field":"label"},"color":{"field":"s","type":"nominal","scale":{"domain":["c","o","k"],"range":["#1e1e86","#e3262b","#111"]},"legend":null}}},
 {"data":{"name":"eccd"},"mark":{"type":"line","color":"#1e1e86","strokeWidth":1.6},
  "encoding":{"x":{"field":"t","type":"quantitative","scale":{"domain":[3,13.37],"nice":false,"zero":false},"axis":{"orient":"bottom","offset":-166,"values":[3,4,5,6,7,8,9,10,11,12,13],"labels":false,"tickSize":-12,"domain":true,"title":null}},
   "y":{"field":"v","type":"quantitative","scale":{"domain":[-0.012,0.5],"range":[736,570],"nice":false,"zero":false},"axis":{"orient":"left","values":[0.2,0.4],"tickSize":-8,"labelPadding":22,"labelOffset":10,"domain":true,"title":"MW","titleX":-87,"titleAngle":270,"titleBaseline":"alphabetic","titleAlign":"center"}}}},
 {"data":{"values":[{"t":3.537,"v":0.298,"label":"ECCD"}]},"mark":{"type":"text","fontSize":29,"align":"center","baseline":"middle","color":"#111"},
  "encoding":{"x":{"field":"t","type":"quantitative","scale":{"domain":[3,13.37],"nice":false,"zero":false},"axis":{"orient":"bottom","offset":-166,"values":[3,4,5,6,7,8,9,10,11,12,13],"labels":false,"tickSize":12,"domain":false,"title":null}},"y":{"field":"v","type":"quantitative","scale":{"domain":[-0.012,0.5],"range":[736,570],"nice":false,"zero":false},"axis":null},"text":{"field":"label"}}},
 {"data":{"name":"icrh"},"mark":{"type":"line","color":"#e3262b","strokeWidth":1.5},
  "encoding":{"x":{"field":"t","type":"quantitative","scale":{"domain":[3,13.37],"nice":false,"zero":false},"axis":null},
   "y":{"field":"v","type":"quantitative","scale":{"domain":[0,6],"range":[902,736],"nice":false,"zero":false},"axis":{"orient":"left","values":[0,2,4],"tickSize":-8,"labelPadding":22,"labelOffset":{"condition":{"test":"datum.value === 0","value":11},"value":0},"domain":true,"title":"MW","titleX":-87,"titleAngle":270,"titleBaseline":"alphabetic","titleAlign":"center"}}}},
 {"data":{"values":[{"t":3.53,"v":3.89,"label":"ICRH"}]},"mark":{"type":"text","fontSize":30,"align":"center","baseline":"middle","color":"#111"},
  "encoding":{"x":{"field":"t","type":"quantitative","scale":{"domain":[3,13.37],"nice":false,"zero":false},"axis":null},"y":{"field":"v","type":"quantitative","scale":{"domain":[0,6],"range":[902,736],"nice":false,"zero":false},"axis":null},"text":{"field":"label"}}},
 {"data":{"values":[{"t":3.196,"v":-3.75,"label":"#40951"}]},"mark":{"type":"text","fontSize":32,"align":"center","baseline":"middle","color":"#111"},
  "encoding":{"x":{"field":"t","type":"quantitative","scale":{"domain":[3,13.37],"nice":false,"zero":false},"axis":null},"y":{"field":"v","type":"quantitative","scale":{"domain":[0,6],"range":[902,736],"nice":false,"zero":false},"axis":null},"text":{"field":"label"}}},
 {"data":{"values":[{"t":5.8,"t2":6.49,"v":0.514},{"t":8.66,"t2":9.38,"v":0.514}]},"mark":{"type":"rule","color":"#333","strokeWidth":2},
  "encoding":{"x":{"field":"t","type":"quantitative","scale":{"domain":[3,13.37],"nice":false,"zero":false},"axis":null},"x2":{"field":"t2"},"y":{"field":"v","type":"quantitative","scale":{"domain":[0,1],"range":[72,0],"nice":false,"zero":false},"axis":null}}},
 {"data":{"values":[{"t":5.53,"v":0.514,"d":"L"},{"t":9.67,"v":0.514,"d":"R"}]},"mark":{"type":"point","filled":true,"size":3249,"opacity":1,"color":"#111"},
  "encoding":{"x":{"field":"t","type":"quantitative","scale":{"domain":[3,13.37],"nice":false,"zero":false},"axis":null},"y":{"field":"v","type":"quantitative","scale":{"domain":[0,1],"range":[72,0],"nice":false,"zero":false},"axis":null},"shape":{"field":"d","type":"nominal","scale":{"domain":["L","R"],"range":["M-1,0L1,-0.37L1,0.37Z","M1,0L-1,-0.37L-1,0.37Z"]},"legend":null}}},
 {"data":{"values":[{"t":7.575,"v":0.542,"label":"Controller active"}]},"mark":{"type":"text","fontSize":29,"baseline":"middle","align":"center","color":"#111"},
  "encoding":{"x":{"field":"t","type":"quantitative","scale":{"domain":[3,13.37],"nice":false,"zero":false},"axis":null},"y":{"field":"v","type":"quantitative","scale":{"domain":[0,1],"range":[72,0],"nice":false,"zero":false},"axis":null},"text":{"field":"label"}}},
 {"data":{"values":[{"t":5.22,"v":0.18,"v2":32.3},{"t":10.0,"v":0.18,"v2":32.3}]},"mark":{"type":"rule","color":"#111","strokeWidth":2.5},
  "encoding":{"x":{"field":"t","type":"quantitative","scale":{"domain":[3,13.37],"nice":false,"zero":false},"axis":{"orient":"bottom","offset":0,"values":[3,4,5,6,7,8,9,10,11,12,13],"labels":true,"labelFlush":false,"labelOffset":4,"labelFontSize":38,"tickSize":-12,"labelPadding":27,"domain":true,"title":"Time (s)","titleFontSize":38,"titleX":512,"titleY":122,"titleBaseline":"alphabetic","titleAlign":"center"}},
   "y":{"field":"v","type":"quantitative","scale":{"domain":[0,6],"range":[902,736],"nice":false,"zero":false},"axis":null},"y2":{"field":"v2"}}},
 {"data":{"values":[{"t":5.22,"t2":10.0,"v":0.18}]},"mark":{"type":"rule","color":"#111","strokeWidth":2.5},
  "encoding":{"x":{"field":"t","type":"quantitative","scale":{"domain":[3,13.37],"nice":false,"zero":false},"axis":null},"x2":{"field":"t2"},"y":{"field":"v","type":"quantitative","scale":{"domain":[0,6],"range":[902,736],"nice":false,"zero":false},"axis":null}}}
],
"resolve":{"scale":{"y":"independent"},"axis":{"x":"independent","y":"independent"}}
}
